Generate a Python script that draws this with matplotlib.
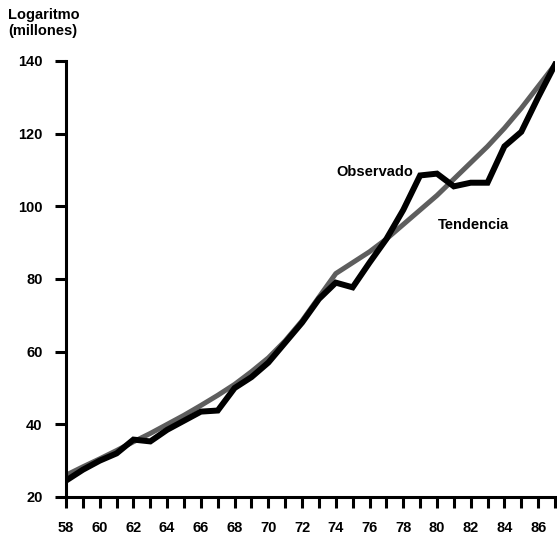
import matplotlib
matplotlib.use("Agg")
import matplotlib.pyplot as plt
import numpy as np

# years (19xx)
years = list(range(58, 88))

# observed series (log scale value, millions)
observado = [24.5, 27.5, 30.0, 32.0, 35.8, 35.3, 38.5, 41.0, 43.5, 43.8,
             50.0, 53.0, 57.0, 62.5, 68.0, 74.5, 79.0, 77.7, 84.5, 91.0,
             99.0, 108.5, 109.0, 105.5, 106.5, 106.5, 116.5, 120.5, 130.0, 139.0]

# fitted trend
tendencia = [26.0, 28.3, 30.5, 32.8, 35.2, 37.5, 40.0, 42.5, 45.2, 48.0,
             51.0, 54.5, 58.3, 63.0, 68.5, 75.0, 81.5, 84.5, 87.5, 91.0,
             95.0, 99.0, 103.0, 107.5, 112.0, 116.5, 121.5, 127.0, 133.0, 139.0]

xtick_labels = [str(y) if y % 2 == 0 and y < 87 else "" for y in years]
yticks = [20, 40, 60, 80, 100, 120, 140]

plt.rcParams["font.family"] = ["Liberation Sans", "DejaVu Sans"]

fig = plt.figure(figsize=(5.57, 5.37), dpi=100)
ax = fig.add_axes([66 / 557, 40 / 537, 489 / 557, 436 / 537])

ax.plot(years, tendencia, color="#5e5e5e", linewidth=3.6, solid_capstyle="butt", zorder=2)
ax.plot(years, observado, color="black", linewidth=4.3, solid_joinstyle="miter", zorder=3)

ax.set_xlim(58, 87)
ax.set_ylim(20, 140)

ax.spines["top"].set_visible(False)
ax.spines["right"].set_visible(False)
ax.spines["left"].set_linewidth(2.2)
ax.spines["bottom"].set_linewidth(2.2)

ax.set_xticks(years)
ax.set_xticklabels(xtick_labels, fontsize=10.5, fontweight="bold")
ax.set_yticks(yticks)
ax.set_yticklabels([str(v) for v in yticks], fontsize=10.5, fontweight="bold")
ax.tick_params(axis="x", direction="out", length=8, width=2.2, pad=9)
ax.tick_params(axis="y", direction="out", length=8, width=2.2, pad=9)

fig.text(413 / 557, 1 - 172 / 537, "Observado", fontsize=10.5, fontweight="bold",
         ha="right", va="center")
fig.text(438 / 557, 1 - 225 / 537, "Tendencia", fontsize=10.5, fontweight="bold",
         ha="left", va="center")
fig.text(8 / 557, 1 - 8 / 537, "Logaritmo\n(millones)", fontsize=10.5,
         fontweight="bold", ha="left", va="top", linespacing=1.2)

fig.savefig("out.png", dpi=100)
